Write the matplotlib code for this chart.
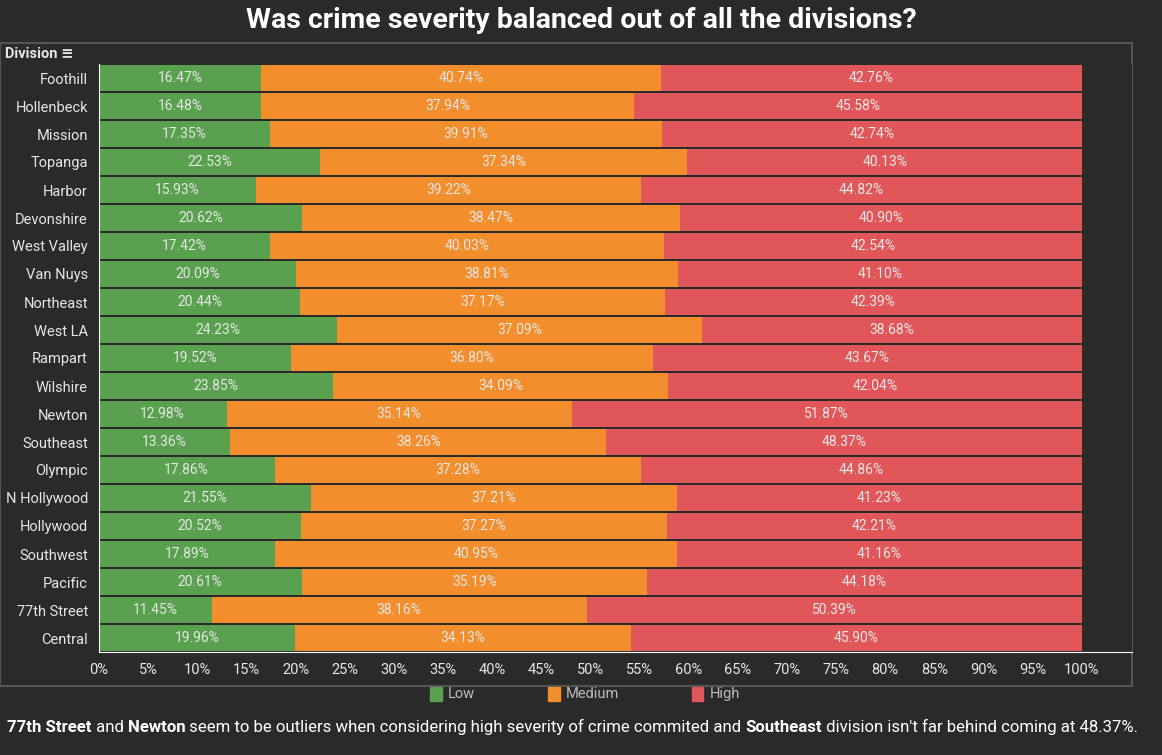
import matplotlib
matplotlib.use("Agg")
import matplotlib.pyplot as plt
from matplotlib.patches import Rectangle, Patch

divisions = ["Foothill", "Hollenbeck", "Mission", "Topanga", "Harbor", "Devonshire",
             "West Valley", "Van Nuys", "Northeast", "West LA", "Rampart", "Wilshire",
             "Newton", "Southeast", "Olympic", "N Hollywood", "Hollywood", "Southwest",
             "Pacific", "77th Street", "Central"]
low = [16.47, 16.48, 17.35, 22.53, 15.93, 20.62, 17.42, 20.09, 20.44, 24.23, 19.52,
       23.85, 12.98, 13.36, 17.86, 21.55, 20.52, 17.89, 20.61, 11.45, 19.96]
medium = [40.74, 37.94, 39.91, 37.34, 39.22, 38.47, 40.03, 38.81, 37.17, 37.09, 36.80,
          34.09, 35.14, 38.26, 37.28, 37.21, 37.27, 40.95, 35.19, 38.16, 34.13]
high = [42.76, 45.58, 42.74, 40.13, 44.82, 40.90, 42.54, 41.10, 42.39, 38.68, 43.67,
        42.04, 51.87, 48.37, 44.86, 41.23, 42.21, 41.16, 44.18, 50.39, 45.90]

bg = "#2a2a2a"
txt = "#e6e6e6"
cols = {"Low": "#59a14f", "Medium": "#f28e2b", "High": "#e15759"}

W, H = 1162, 755
fig = plt.figure(figsize=(W / 100, H / 100), dpi=100, facecolor=bg)
plt.rcParams['font.family'] = ['Roboto', 'DejaVu Sans']

# panel frame
fig.patches.append(Rectangle((0, 1 - 686 / H), 1132 / W, (686 - 43) / H, transform=fig.transFigure,
                             facecolor=bg, edgecolor="#555555", linewidth=1.5, zorder=-5))

ax = fig.add_axes([99 / W, 1 - 652 / H, (1132 - 99) / W, (652 - 64) / H])
ax.set_zorder(2)
ax.set_facecolor(bg)
y = list(range(len(divisions)))
h = 0.93
ax.barh(y, low, height=h, color=cols["Low"])
ax.barh(y, medium, left=low, height=h, color=cols["Medium"])
lm = [a + b for a, b in zip(low, medium)]
ax.barh(y, high, left=lm, height=h, color=cols["High"])
for i in y:
    ax.text(low[i] / 2, i, f"{low[i]:.2f}%", ha="center", va="center", color=txt, fontsize=10)
    ax.text(low[i] + medium[i] / 2, i, f"{medium[i]:.2f}%", ha="center", va="center", color=txt, fontsize=10)
    ax.text(lm[i] + high[i] / 2, i, f"{high[i]:.2f}%", ha="center", va="center", color=txt, fontsize=10)

ax.set_ylim(len(divisions) - 0.5, -0.5)
ax.set_xlim(0, 105.1)
ax.set_yticks(y)
ax.set_yticklabels(divisions, color=txt, fontsize=10.5)
ax.set_xticks(range(0, 101, 5))
ax.set_xticklabels([f"{v}%" for v in range(0, 101, 5)], color=txt, fontsize=10.5)
ax.tick_params(length=0, pad=8)
for s in ["top", "right"]:
    ax.spines[s].set_visible(False)
ax.spines["left"].set_color("#ffffff")
ax.spines["bottom"].set_color("#ffffff")

fig.text(5 / W, 1 - 54 / H, "Division \u2261", color=txt, fontsize=10.5, fontweight="bold", va="center")
fig.text(0.5, 1 - 20 / H, "Was crime severity balanced out of all the divisions?", color="white",
         fontsize=20.5, fontweight="bold", ha="center", va="center")

handles = [Patch(color=c, label=k) for k, c in cols.items()]
fig.legend(handles=handles, loc="center", bbox_to_anchor=(585 / W, 1 - 694 / H), ncol=3, frameon=False,
           labelcolor="#bbbbbb", fontsize=10.5, handlelength=0.8, handleheight=1.1, columnspacing=5,
           handletextpad=0.4)

# footnote with bold parts
parts = [("77th Street", "bold"), (" and ", "normal"), ("Newton", "bold"),
         (" seem to be outliers when considering high severity of crime commited and ", "normal"),
         ("Southeast", "bold"), (" division isn't far behind coming at 48.37%.", "normal")]
fig.canvas.draw()
r = fig.canvas.get_renderer()
x = 7
for s, wgt in parts:
    t = fig.text(x / W, 1 - 727 / H, s, color="white", fontsize=12.1, fontweight=wgt, va="center")
    x += t.get_window_extent(r).width

fig.savefig("out.png", dpi=100, facecolor=bg)
